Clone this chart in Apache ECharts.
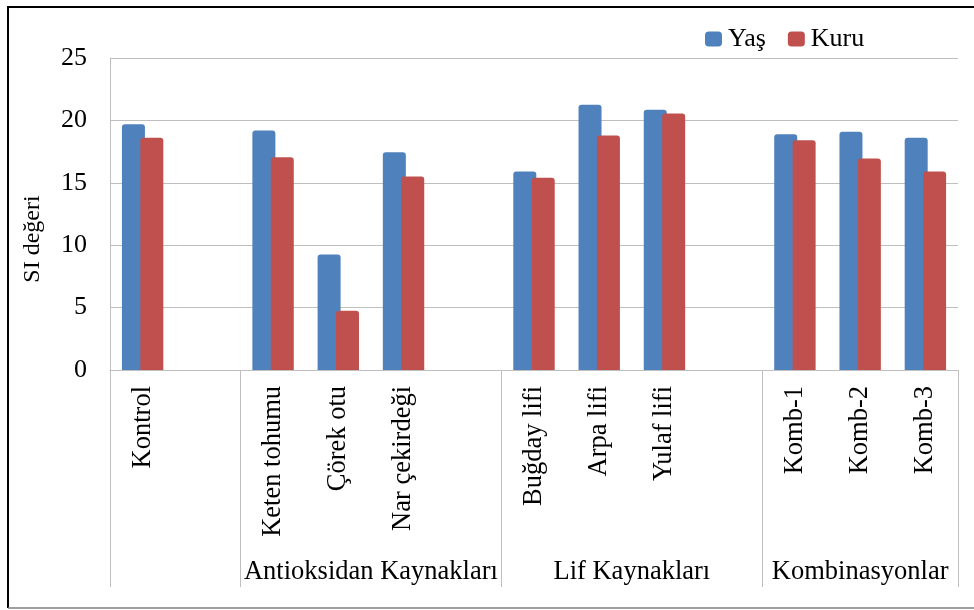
<!DOCTYPE html>
<html>
<head>
<meta charset="utf-8">
<script src="https://cdn.jsdelivr.net/npm/echarts@6/dist/echarts.min.js"></script>
<style>
html,body{margin:0;padding:0;background:#fff;}
#chart{width:974px;height:610px;}
</style>
</head>
<body>
<div id="chart"></div>
<script>
const categories = ['Kontrol', '', 'Keten tohumu', 'Çörek otu', 'Nar çekirdeği', '', 'Buğday lifi', 'Arpa lifi', 'Yulaf lifi', '', 'Komb-1', 'Komb-2', 'Komb-3'];
const yasValues = [19.7, null, 19.2, 9.25, 17.45, null, 15.9, 21.25, 20.85, null, 18.9, 19.1, 18.6];
const kuruValues = [18.6, null, 17.05, 4.75, 15.5, null, 15.4, 18.8, 20.55, null, 18.4, 16.95, 15.9];
const groupNames = ['Antioksidan Kaynakları', 'Lif Kaynakları', 'Kombinasyonlar'];
const groupCenters = [4, 8, 11.5];
const groupBoundaries = [0, 2, 6, 10, 13];
const yTicks = [0, 5, 10, 15, 20, 25];

const serif = '"Liberation Serif", "DejaVu Serif", serif';
const chart = echarts.init(document.getElementById('chart'), null, {renderer: 'canvas'});

const option = {
  animation: false,
  backgroundColor: '#ffffff',
  textStyle: {fontFamily: serif},
  grid: {left: 110, right: 16, top: 58, bottom: 240, containLabel: false},
  legend: {
    data: ['Yaş', 'Kuru'],
    left: 700, top: 21,
    itemWidth: 17, itemHeight: 15, itemGap: 22,
    icon: 'roundRect',
    textStyle: {fontFamily: serif, fontSize: 26, color: '#000', padding: [0,0,0,1]}
  },
  xAxis: [
    {
      type: 'category',
      data: categories,
      position: 'bottom',
      axisLine: {show: true, lineStyle: {color: '#BFBFBF', width: 1}},
      axisTick: {show: false},
      axisLabel: {
        rotate: 90, interval: 0, margin: 16,
        fontFamily: serif, fontSize: 26.5, color: '#000'
      },
      splitLine: {show: false}
    },
    {
      type: 'value',
      min: 0, max: 13,
      position: 'bottom',
      axisLine: {show: false},
      axisTick: {
        show: true, customValues: groupBoundaries, length: 217, inside: false,
        lineStyle: {color: '#BFBFBF', width: 1}
      },
      axisLabel: {
        show: true, customValues: groupCenters, margin: 189,
        fontFamily: serif, fontSize: 26.5, color: '#000',
        formatter: function (v) {
          const i = groupCenters.indexOf(v);
          return i >= 0 ? groupNames[i] : '';
        }
      },
      splitLine: {show: false}
    }
  ],
  yAxis: {
    type: 'value',
    min: 0, max: 25, interval: 5,
    name: 'SI değeri',
    nameLocation: 'middle',
    nameGap: 65,
    nameRotate: 90,
    nameTextStyle: {fontFamily: serif, fontSize: 24, color: '#000', padding: [0, 50, 0, 0]},
    axisLine: {show: true, lineStyle: {color: '#BFBFBF', width: 1}},
    axisTick: {show: false},
    axisLabel: {
      margin: 23, fontFamily: serif, fontSize: 26, color: '#000',
      customValues: yTicks
    },
    splitLine: {show: true, lineStyle: {color: '#BFBFBF', width: 1}}
  },
  series: [
    {
      name: 'Yaş', type: 'bar', xAxisIndex: 0,
      data: yasValues,
      barWidth: 23, barGap: '-20%',
      itemStyle: {color: '#4F81BD', borderRadius: [3, 3, 0, 0]}
    },
    {
      name: 'Kuru', type: 'bar', xAxisIndex: 0,
      data: kuruValues,
      barWidth: 23, barGap: '-20%',
      itemStyle: {color: '#C0504D', borderRadius: [3, 3, 0, 0]}
    }
  ],
  graphic: [
    {type: 'line', shape: {x1: 8, y1: 7, x2: 974, y2: 7}, style: {stroke: '#000', lineWidth: 2}},
    {type: 'line', shape: {x1: 8, y1: 6, x2: 8, y2: 608}, style: {stroke: '#000', lineWidth: 2}},
    {type: 'line', shape: {x1: 8, y1: 608, x2: 974, y2: 608}, style: {stroke: '#7f7f7f', lineWidth: 1.5}}
  ]
};
chart.setOption(option);
</script>
</body>
</html>
